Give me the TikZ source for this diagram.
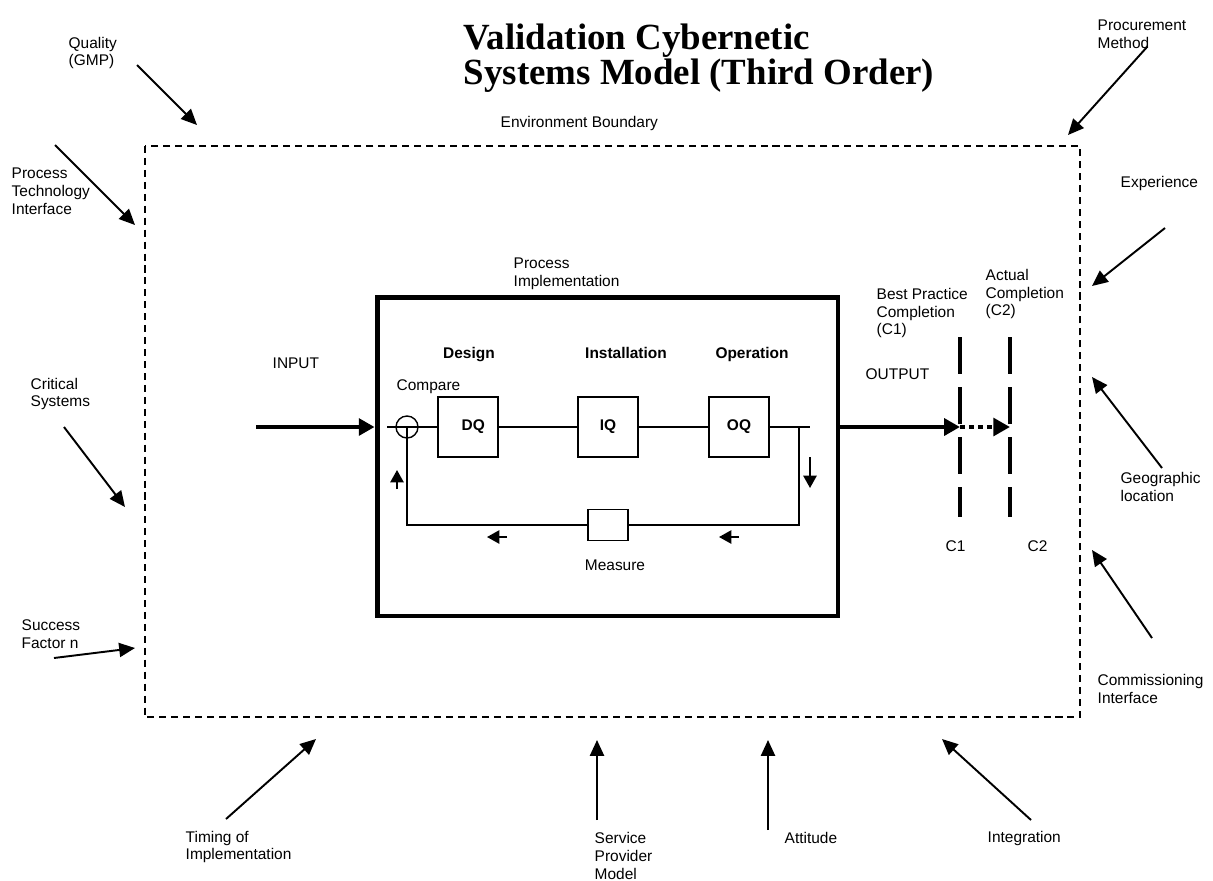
\documentclass[tikz,border=0pt]{standalone}
\usepackage{fontspec}
\setmainfont{Liberation Sans}
\newfontfamily\titlefont{Liberation Serif}
\usetikzlibrary{arrows.meta}

\begin{document}
\begin{tikzpicture}[x=0.02cm,y=-0.02cm,line width=0.8pt,
   lbl/.style={font=\fontsize{8.8}{10.2}\selectfont,align=left,inner sep=0pt,anchor=west},
   stage/.style={font=\fontsize{8.8}{10.2}\selectfont\bfseries,inner sep=0pt,anchor=base},
   qbox/.style={draw,minimum size=1.2cm,inner sep=0pt,font=\fontsize{8.8}{10.2}\selectfont\bfseries},
   ttl/.style={font=\titlefont\bfseries\fontsize{21}{18.7}\selectfont,align=left,inner sep=0pt,anchor=west},
   infl/.style={-{Triangle[length=9pt,width=8pt]},line width=1.1pt},
   flow/.style={-{Triangle[length=9pt,width=9.5pt]},line width=2.8pt},
   dotflow/.style={-{Triangle[length=9.5pt,width=10pt]},line width=2.8pt,dash pattern=on 2.8pt off 2.3pt},
   fbarrow/.style={-{Triangle[length=7pt,width=7.5pt]},line width=1.1pt},
   cline/.style={line width=2.3pt,dash pattern=on 21pt off 7.5pt},
   envb/.style={line width=0.8pt,dash pattern=on 4pt off 2.8pt}]

  \useasboundingbox (0,0) rectangle (1213,880);

  \node[ttl] (title) at (463,58) {Validation Cybernetic\\Systems Model (Third Order)};

  \draw[envb] (145,146) rectangle (1080,717);
  \node[draw,line width=2.8pt,minimum width=9.22cm,minimum height=6.38cm] (pbox) at (607.5,456.5) {};

  \node[qbox] (dq) at (468,427) {\hspace{6pt}DQ};
  \node[qbox] (iq) at (608,427) {IQ\hspace{6pt}};
  \node[qbox] (oq) at (739,427) {OQ};
  \node[draw,circle,minimum size=0.44cm,inner sep=0pt] (cmp) at (407,427) {};
  \node[draw,minimum width=0.8cm,minimum height=0.62cm,inner sep=0pt] (meas) at (608,525) {};

  \coordinate (ml) at (387,427);
  \coordinate (mr) at (810,427);
  \coordinate (fbr) at (799,427);
  \coordinate (in) at (256,427);
  \coordinate (c1) at (960,427);
  \coordinate (c2) at (1010,427);
  \coordinate (c1t) at (960,337);
  \coordinate (c1b) at (960,517);
  \coordinate (c2t) at (1010,337);
  \coordinate (c2b) at (1010,517);

  \draw (ml) -- (dq) -- (iq) -- (oq) -- (mr);
  \draw (fbr) |- (meas.east);
  \draw (meas.west) -| (cmp.center);

  \coordinate (dnA) at (810,457);
  \coordinate (dnB) at (810,488);
  \coordinate (upA) at (397,489);
  \coordinate (upB) at (397,470);
  \coordinate (lfA) at (507,537);
  \coordinate (lfB) at (487,537);
  \coordinate (lfC) at (739,537);
  \coordinate (lfD) at (719,537);
  \foreach \from/\to in {dnA/dnB,upA/upB,lfA/lfB,lfC/lfD} \draw[fbarrow] (\from) -- (\to);

  \draw[flow] (in) -- (in -| pbox.west);
  \draw[flow] (pbox.east |- c1) -- (c1);
  \draw[dotflow] (c1) -- (c2);
  \draw[cline] (c1t) -- (c1b);
  \draw[cline] (c2t) -- (c2b);

  \coordinate (qualT) at (137,65);    \coordinate (qualH) at (197,125);
  \coordinate (procT) at (1147,47);   \coordinate (procH) at (1068,135);
  \coordinate (ptechT) at (55,145);   \coordinate (ptechH) at (135,225);
  \coordinate (experT) at (1165,228); \coordinate (experH) at (1092,286);
  \coordinate (critT) at (64,427);    \coordinate (critH) at (125,507);
  \coordinate (geoT) at (1162,468);   \coordinate (geoH) at (1092,377);
  \coordinate (succT) at (54,658);    \coordinate (succH) at (135,648);
  \coordinate (commT) at (1152,638);  \coordinate (commH) at (1092,550);
  \coordinate (timT) at (226,819);    \coordinate (timH) at (316,739);
  \coordinate (servT) at (597,820);   \coordinate (servH) at (597,740);
  \coordinate (attT) at (768,830);    \coordinate (attH) at (768,740);
  \coordinate (intT) at (1031,820);   \coordinate (intH) at (942,739);
  \foreach \n in {qual,proc,ptech,exper,crit,geo,succ,comm,tim,serv,att,int}
    \draw[infl] (\n T) -- (\n H);

  \node[lbl] (qual) at (68,53) {Quality\\(GMP)};
  \node[lbl] (procm) at (1097,34) {Procurement\\Method};
  \node[lbl] (envlbl) at (500,123) {Environment Boundary};
  \node[lbl] (ptech) at (11,191) {Process\\Technology\\Interface};
  \node[lbl] (exper) at (1120,183) {Experience};
  \node[lbl] (pimpl) at (513,274) {Process\\Implementation};
  \node[lbl] (bestc) at (876,313) {Best Practice\\Completion\\(C1)};
  \node[lbl] (actc) at (985,294) {Actual\\Completion\\(C2)};
  \node[lbl] (inp) at (272,363) {INPUT};
  \node[stage] (design) at (469,358.5) {Design};
  \node[stage] (install) at (626,358.5) {Installation};
  \node[stage] (oper) at (752,358.5) {Operation};
  \node[lbl] (cmplbl) at (396,387) {Compare};
  \node[lbl] (outp) at (865,374) {OUTPUT};
  \node[lbl] (crit) at (30,394) {Critical\\Systems};
  \node[lbl] (geo) at (1120,487) {Geographic\\location};
  \node[lbl,anchor=center] (measlbl) at (615,565) {Measure};
  \node[lbl] (c1lbl) at (945,546) {C1};
  \node[lbl] (c2lbl) at (1027,546) {C2};
  \node[lbl] (succ) at (21,634) {Success\\Factor n};
  \node[lbl] (comm) at (1097,689) {Commissioning\\Interface};
  \node[lbl] (timing) at (185,847) {Timing of\\Implementation};
  \node[lbl] (serv) at (594,856) {Service\\Provider\\Model};
  \node[lbl] (att) at (784,838) {Attitude};
  \node[lbl] (integ) at (987,838) {Integration};
\end{tikzpicture}
\end{document}
